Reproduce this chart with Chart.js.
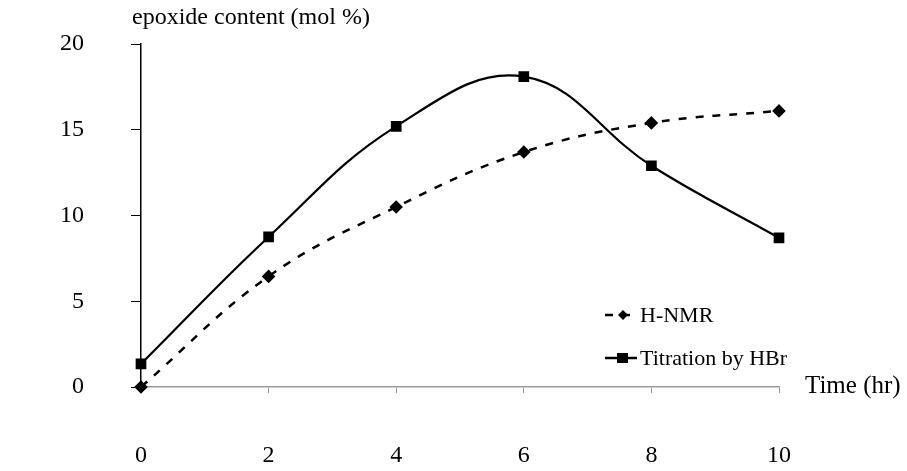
<!DOCTYPE html>
<html>
<head>
<meta charset="utf-8">
<script src="https://cdn.jsdelivr.net/npm/chart.js@4"></script>
<style>
  body { margin: 0; background: #fff; }
  #wrap { width: 907px; height: 471px; }
</style>
</head>
<body>
<div id="wrap"><canvas id="epoxide" width="907" height="471"></canvas></div>
<script>
var Hours = [0, 2, 4, 6, 8, 10];
var HNMR = [0, 6.45, 10.5, 13.7, 15.4, 16.1];
var Titration = [1.35, 8.75, 15.2, 18.1, 12.9, 8.7];
var YTicks = [0, 5, 10, 15, 20];

var serif = "'Liberation Serif', 'Times New Roman', serif";

function ToPoints(xs, ys)
{
    var pts = [];
    for (var i = 0; i < xs.length; i++) pts.push({x: xs[i], y: ys[i]});
    return pts;
}

// axis titles + legend inside plot, drawn by hand
var Extras = {
    id: 'extras',
    afterDraw: function(chart) {
        var ctx = chart.ctx;
        var area = chart.chartArea;
        ctx.save();
        ctx.fillStyle = '#000';
        ctx.textBaseline = 'middle';
        ctx.textAlign = 'left';
        ctx.font = '24px ' + serif;
        ctx.fillText('epoxide content (mol %)', 132, 18);
        ctx.font = '25px ' + serif;
        ctx.fillText('Time (hr)', area.right + 26, area.bottom - 1);

        var rows = [315, 358];
        chart.data.datasets.forEach(function(ds, i) {
            var y = rows[i];
            ctx.strokeStyle = ds.borderColor;
            ctx.lineWidth = 2.5;
            ctx.setLineDash(ds.borderDash || []);
            ctx.beginPath();
            ctx.moveTo(605, y);
            ctx.lineTo(637, y);
            ctx.stroke();
            ctx.setLineDash([]);
            ctx.fillStyle = '#000';
            if (ds.pointStyle === 'rectRot') {
                ctx.beginPath();
                ctx.moveTo(623, y - 5); ctx.lineTo(628, y); ctx.lineTo(623, y + 5); ctx.lineTo(618, y);
                ctx.closePath(); ctx.fill();
            } else {
                ctx.fillRect(617, y - 5, 11, 10);
            }
            ctx.font = '22px ' + serif;
            ctx.fillText(ds.label, 640, y + 1);
        });
        ctx.restore();
    }
};

var chartCtx = document.getElementById('epoxide').getContext('2d');
var EpoxideChart = new Chart(chartCtx, {
    type: 'line',
    data: {
        datasets: [{
            label: 'H-NMR',
            data: ToPoints(Hours, HNMR),
            borderColor: '#000',
            backgroundColor: '#000',
            borderWidth: 2.5,
            borderDash: [8, 9],
            pointStyle: 'rectRot',
            pointRadius: 5,
            tension: 0.4,
            clip: false
        }, {
            label: 'Titration by HBr',
            data: ToPoints(Hours, Titration),
            borderColor: '#000',
            backgroundColor: '#000',
            borderWidth: 2.2,
            pointStyle: 'rect',
            pointRadius: 6,
            tension: 0.4,
            clip: false
        }]
    },
    options: {
        responsive: false,
        animation: false,
        layout: { padding: { left: 0, right: 128, top: 44, bottom: 0 } },
        plugins: { legend: { display: false }, tooltip: { enabled: false } },
        scales: {
            x: {
                type: 'linear',
                min: 0, max: 10,
                afterFit: function(s) { s.height = 84; s.paddingLeft = 0; s.paddingRight = 0; },
                afterBuildTicks: function(s) { s.ticks = Hours.map(function(v) { return {value: v}; }); },
                grid: { drawOnChartArea: false, tickLength: 6, color: '#999' },
                border: { color: '#999', width: 1.5 },
                ticks: { color: '#000', font: { family: serif, size: 24 }, padding: 48, maxRotation: 0 }
            },
            y: {
                min: 0, max: 20,
                afterFit: function(s) { s.width = 141; s.paddingTop = 0; s.paddingBottom = 0; },
                afterBuildTicks: function(s) { s.ticks = YTicks.map(function(v) { return {value: v}; }); },
                grid: { drawOnChartArea: false, tickLength: 10, color: '#000' },
                border: { color: '#000', width: 1.5 },
                ticks: { color: '#000', font: { family: serif, size: 24 }, padding: 47 }
            }
        }
    },
    plugins: [Extras]
});
</script>
</body>
</html>
